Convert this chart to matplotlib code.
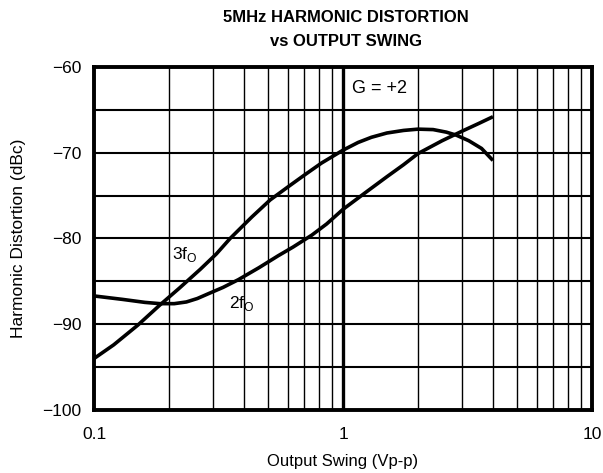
import numpy as np
import matplotlib
matplotlib.use('Agg')
import matplotlib.pyplot as plt

# values
x_3f = [0.1, 0.12, 0.15, 0.184, 0.22, 0.267, 0.31, 0.352, 0.43, 0.51, 0.6, 0.7, 0.82,
        1.0, 1.15, 1.3, 1.5, 1.75, 2.0, 2.3, 2.6, 2.85, 3.2, 3.6, 4.0]
y_3f = [-94.0, -92.4, -90.1, -87.75, -85.8, -83.6, -81.8, -80.0, -77.5, -75.5, -74.0, -72.6, -71.2,
        -69.7, -68.8, -68.2, -67.7, -67.4, -67.25, -67.3, -67.6, -67.95, -68.6, -69.5, -70.9]

x_2f = [0.1, 0.13, 0.16, 0.184, 0.21, 0.235, 0.26, 0.29, 0.33, 0.38, 0.46, 0.55, 0.63, 0.75,
        0.86, 1.0, 1.25, 1.5, 1.75, 2.0, 2.5, 3.0, 3.5, 4.0]
y_2f = [-86.7, -87.1, -87.45, -87.6, -87.6, -87.4, -87.0, -86.4, -85.7, -84.8, -83.4, -82.0, -81.0, -79.6,
        -78.3, -76.6, -74.5, -72.8, -71.4, -70.1, -68.6, -67.5, -66.6, -65.8]

y_ticks = [-100, -90, -80, -70, -60]
x_ticks = [0.1, 1, 10]
x_ticklabels = ['0.1', '1', '10']

plt.rcParams['font.family'] = ['Liberation Sans', 'DejaVu Sans']

fig = plt.figure(figsize=(6.03, 4.73), dpi=100)
ax = fig.add_axes([0.1559, 0.1332, 0.8259, 0.7252])

ax.set_xscale('log')
ax.set_xlim(0.1, 10)
ax.set_ylim(-100, -60)

# grid: thin lines at 2..9 of each decade, heavy line at 1
for dec in [0.1, 1]:
    for m in range(2, 10):
        ax.axvline(dec * m, color='black', lw=1.0, zorder=1)
ax.axvline(1, color='black', lw=2.4, zorder=1)
for yv in range(-95, -60, 5):
    ax.axhline(yv, color='black', lw=1.5, zorder=1)

ax.plot(x_3f, y_3f, color='black', lw=2.6, solid_capstyle='butt', zorder=3)
ax.plot(x_2f, y_2f, color='black', lw=2.6, solid_capstyle='butt', zorder=3)

ax.text(0.205, -81.9, '3f$_\\mathregular{O}$', fontsize=12.5, va='center', ha='left', zorder=4)
ax.text(0.35, -87.6, '2f$_\\mathregular{O}$', fontsize=12.5, va='center', ha='left', zorder=4)
ax.text(1.09, -62.5, 'G = +2', fontsize=13, va='center', ha='left', zorder=4)

ax.set_xticks(x_ticks)
ax.set_xticklabels(x_ticklabels)
ax.xaxis.set_minor_locator(matplotlib.ticker.NullLocator())
ax.set_yticks(y_ticks)
ax.tick_params(axis='both', length=0, labelsize=12.5)
ax.tick_params(axis='x', pad=12)
ax.tick_params(axis='y', pad=9)

for s in ax.spines.values():
    s.set_linewidth(2.8)

ax.set_xlabel('Output Swing (Vp-p)', fontsize=12, labelpad=9)
ax.set_ylabel('Harmonic Distortion (dBc)', fontsize=12.5, labelpad=12)

title_font = ['Liberation Sans Narrow', 'Liberation Sans', 'DejaVu Sans']
fig.text(0.573, 0.962, '5MHz HARMONIC DISTORTION', ha='center', va='center',
         fontsize=12, fontweight='bold', family=title_font)
fig.text(0.573, 0.913, 'vs OUTPUT SWING', ha='center', va='center',
         fontsize=12, fontweight='bold', family=title_font)

fig.savefig('out.png', dpi=100)
